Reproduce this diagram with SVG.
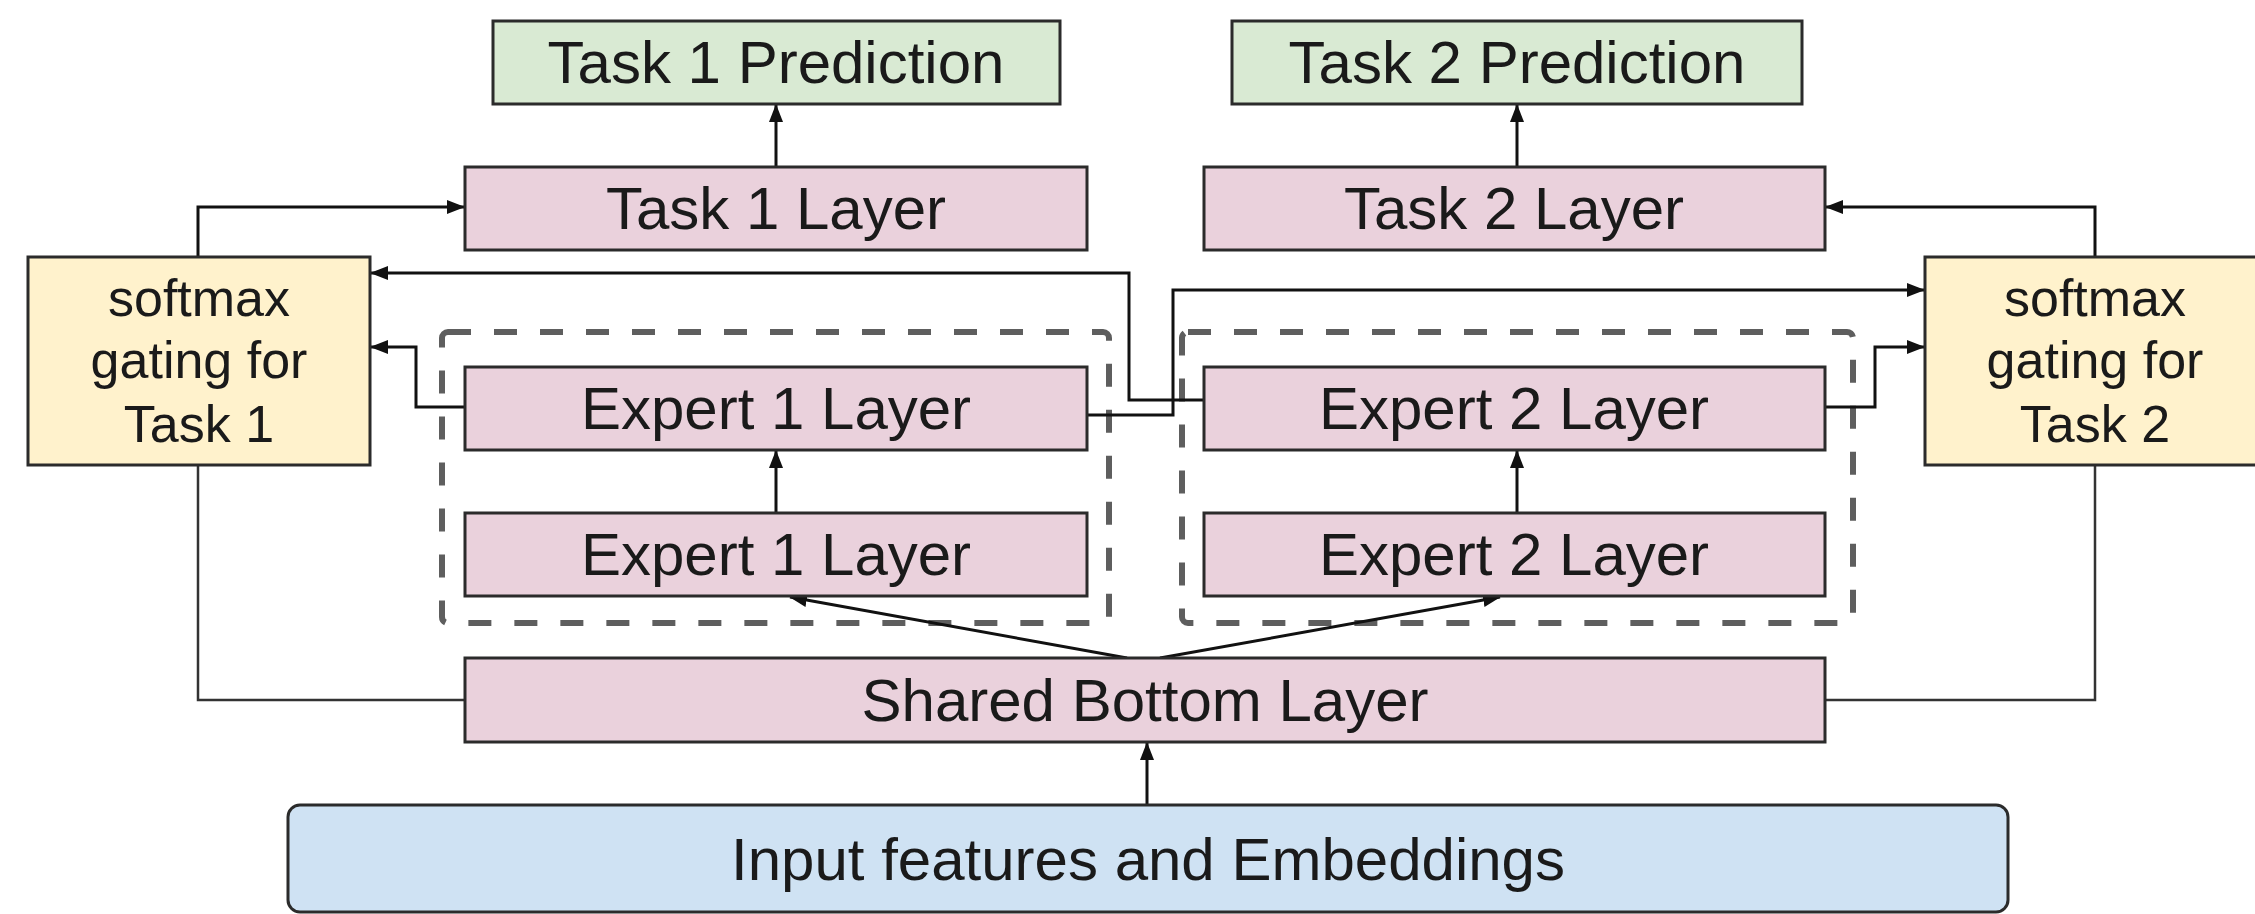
<svg xmlns="http://www.w3.org/2000/svg" width="2255" height="914" viewBox="0 0 2255 914">
  <defs>
    <marker id="arrow" markerUnits="userSpaceOnUse" markerWidth="18" markerHeight="14" refX="17" refY="7" orient="auto">
      <path d="M0,0 L18,7 L0,14 Z" fill="#111"/>
    </marker>
    <style>
      .box { stroke: #2b2b2b; stroke-width: 3; }
      .pred { fill: #d9ead3; }
      .layer { fill: #ead1dc; }
      .gate { fill: #fff2cc; }
      .input { fill: #cfe2f3; }
      .group { fill: none; stroke: #5e5e5e; stroke-width: 6; stroke-dasharray: 23 23; }
      .label { font-family: "Liberation Sans", Arial, sans-serif; font-size: 60px; fill: #1a1a1a; text-anchor: middle; }
      .gtext { font-family: "Liberation Sans", Arial, sans-serif; font-size: 52px; fill: #1a1a1a; text-anchor: middle; }
      .link { fill: none; stroke: #111; stroke-width: 3; }
      .plain { fill: none; stroke: #333; stroke-width: 2.5; }
    </style>
  </defs>

  <rect width="2255" height="914" fill="#ffffff"/>

  <!-- expert groups -->
  <g id="expert-group-1">
    <rect class="group" x="442" y="332" width="667" height="291" rx="6"/>
  </g>
  <g id="expert-group-2">
    <rect class="group" x="1182" y="332" width="671" height="291" rx="6"/>
  </g>

  <!-- connectors -->
  <g id="connectors">
    <path class="link" d="M776,167 V105" marker-end="url(#arrow)"/>
    <path class="link" d="M1517,167 V105" marker-end="url(#arrow)"/>
    <path class="link" d="M198,257 V207 H464" marker-end="url(#arrow)"/>
    <path class="link" d="M2095,257 V207 H1826" marker-end="url(#arrow)"/>
    <path class="link" d="M1204,400 H1129 V273 H371" marker-end="url(#arrow)"/>
    <path class="link" d="M1087,415 H1173 V290 H1924" marker-end="url(#arrow)"/>
    <path class="link" d="M465,407 H416 V347 H371" marker-end="url(#arrow)"/>
    <path class="link" d="M1825,407 H1875 V347 H1924" marker-end="url(#arrow)"/>
    <path class="link" d="M776,513 V451" marker-end="url(#arrow)"/>
    <path class="link" d="M1517,513 V451" marker-end="url(#arrow)"/>
    <path class="link" d="M1127,658 L790,597" marker-end="url(#arrow)"/>
    <path class="link" d="M1160,658 L1500,597" marker-end="url(#arrow)"/>
    <path class="link" d="M1147,805 V743" marker-end="url(#arrow)"/>
    <path class="plain" d="M198,465 V700 H465"/>
    <path class="plain" d="M2095,465 V700 H1825"/>
  </g>

  <!-- nodes -->
  <g id="task1-prediction">
    <rect class="box pred" x="493" y="21" width="567" height="83"/>
    <text class="label" x="776" y="83">Task 1 Prediction</text>
  </g>
  <g id="task2-prediction">
    <rect class="box pred" x="1232" y="21" width="570" height="83"/>
    <text class="label" x="1517" y="83">Task 2 Prediction</text>
  </g>
  <g id="task1-layer">
    <rect class="box layer" x="465" y="167" width="622" height="83"/>
    <text class="label" x="776" y="229">Task 1 Layer</text>
  </g>
  <g id="task2-layer">
    <rect class="box layer" x="1204" y="167" width="621" height="83"/>
    <text class="label" x="1514" y="229">Task 2 Layer</text>
  </g>
  <g id="gate1">
    <rect class="box gate" x="28" y="257" width="342" height="208"/>
    <text class="gtext" x="199" y="316">softmax</text>
    <text class="gtext" x="199" y="378">gating for</text>
    <text class="gtext" x="199" y="442">Task 1</text>
  </g>
  <g id="gate2">
    <rect class="box gate" x="1925" y="257" width="345" height="208"/>
    <text class="gtext" x="2095" y="316">softmax</text>
    <text class="gtext" x="2095" y="378">gating for</text>
    <text class="gtext" x="2095" y="442">Task 2</text>
  </g>
  <g id="expert1-top">
    <rect class="box layer" x="465" y="367" width="622" height="83"/>
    <text class="label" x="776" y="429">Expert 1 Layer</text>
  </g>
  <g id="expert1-bottom">
    <rect class="box layer" x="465" y="513" width="622" height="83"/>
    <text class="label" x="776" y="575">Expert 1 Layer</text>
  </g>
  <g id="expert2-top">
    <rect class="box layer" x="1204" y="367" width="621" height="83"/>
    <text class="label" x="1514" y="429">Expert 2 Layer</text>
  </g>
  <g id="expert2-bottom">
    <rect class="box layer" x="1204" y="513" width="621" height="83"/>
    <text class="label" x="1514" y="575">Expert 2 Layer</text>
  </g>
  <g id="shared-bottom">
    <rect class="box layer" x="465" y="658" width="1360" height="84"/>
    <text class="label" x="1145" y="721">Shared Bottom Layer</text>
  </g>
  <g id="input">
    <rect class="box input" x="288" y="805" width="1720" height="107" rx="12"/>
    <text class="label" x="1148" y="880">Input features and Embeddings</text>
  </g>
</svg>
